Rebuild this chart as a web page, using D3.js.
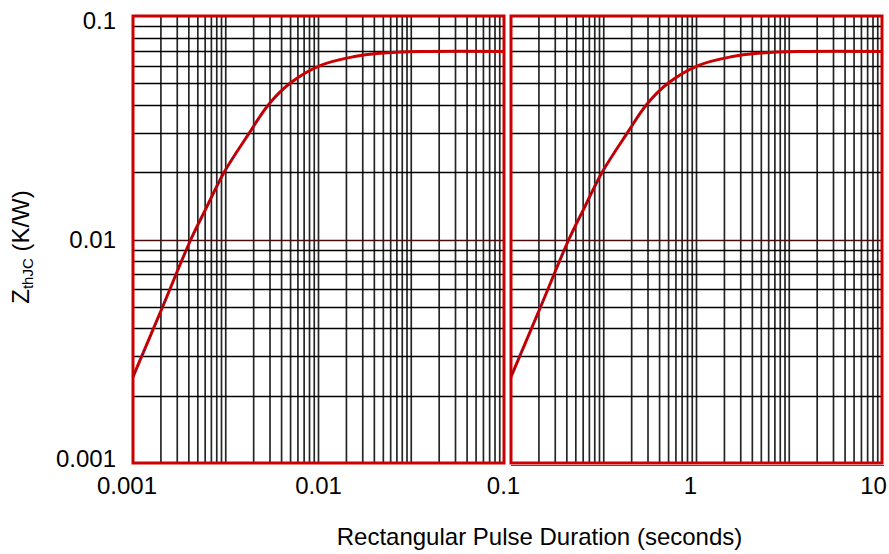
<!DOCTYPE html>
<html>
<head>
<meta charset="utf-8">
<script src="https://cdn.jsdelivr.net/npm/d3@7"></script>
<style>
  html, body { margin: 0; padding: 0; background: #fff; }
  svg { display: block; font-family: "Liberation Sans", Arial, sans-serif; }
</style>
</head>
<body>
<svg id="chart" width="889" height="554"></svg>
<script>
// ---- data ----
const pulseLeft  = [0.001, 0.00143, 0.00205, 0.0025, 0.0031, 0.00424, 0.00536, 0.00702, 0.0102, 0.0154, 0.0215, 0.0352, 0.1];
const zthLeft    = [0.00243, 0.0049, 0.01, 0.014, 0.02, 0.03, 0.04, 0.05, 0.06, 0.0657, 0.0681, 0.0693, 0.0694];
const pulseRight = [0.1, 0.143, 0.205, 0.25, 0.31, 0.424, 0.536, 0.702, 1.02, 1.54, 2.15, 3.52, 10];
const zthRight   = [0.00243, 0.0049, 0.01, 0.014, 0.02, 0.03, 0.04, 0.05, 0.06, 0.0657, 0.0681, 0.0693, 0.0694];
const xTickLabels = ["0.001", "0.01", "0.1", "1", "10"];
const yTickValues = [0.1, 0.01, 0.001];
const yTickLabels = ["0.1", "0.01", "0.001"];
const xTitle = "Rectangular Pulse Duration (seconds)";

// ---- layout ----
const svg = d3.select("#chart");
const plotTop = 16, plotBottom = 463;
const panels = [
  { x0: 133, x1: 504, domain: [0.001, 0.1], t: pulseLeft, z: zthLeft },
  { x0: 511, x1: 882, domain: [0.1, 10], t: pulseRight, z: zthRight }
];
const y = d3.scaleLog().domain([0.001, 0.1]).range([plotBottom, plotTop]);
const red = "#cc0000";
const fs = 24;

// horizontal grid values (1..9 per decade)
const yGrid = [];
for (let e = -3; e < -1; e++) for (let k = 1; k <= 9; k++) yGrid.push(k * Math.pow(10, e));

panels.forEach(p => {
  const x = d3.scaleLog().domain(p.domain).range([p.x0, p.x1]);
  p.x = x;
  // vertical grid: 4 log decades across each panel
  const gx = d3.scaleLog().domain([1, 1e4]).range([p.x0, p.x1]);
  const xGrid = [];
  for (let e = 0; e < 4; e++) for (let k = 1; k <= 9; k++) xGrid.push(k * Math.pow(10, e));
  const g = svg.append("g");
  g.selectAll("line.v").data(xGrid.slice(1)).enter().append("line")
    .attr("x1", d => gx(d)).attr("x2", d => gx(d))
    .attr("y1", plotTop).attr("y2", plotBottom)
    .attr("stroke", "#000").attr("stroke-width", 1.7).attr("stroke-opacity", 0.85);
  g.selectAll("line.h").data(yGrid.slice(1)).enter().append("line")
    .attr("x1", p.x0).attr("x2", p.x1)
    .attr("y1", d => Math.round(y(d)) + 0.5).attr("y2", d => Math.round(y(d)) + 0.5)
    .attr("stroke", d => Math.abs(d - 0.01) < 1e-9 ? "#4a0c0c" : "#000")
    .attr("stroke-width", 1.6);

  const pts = p.t.map((t, i) => [t, p.z[i]]);
  const line = d3.line().x(d => x(d[0])).y(d => y(d[1])).curve(d3.curveCatmullRom.alpha(0.5));
  g.append("path").attr("d", line(pts)).attr("fill", "none")
    .attr("stroke", red).attr("stroke-width", 3);
  g.append("path").attr("d", line(pts.slice(0, 8))).attr("fill", "none")
    .attr("stroke", "#101060").attr("stroke-width", 1).attr("stroke-dasharray", "1,3");

  g.append("rect").attr("x", p.x0).attr("y", plotTop)
    .attr("width", p.x1 - p.x0).attr("height", plotBottom - plotTop)
    .attr("fill", "none").attr("stroke", red).attr("stroke-width", 3);
});

// thin blue line under right panel
svg.append("line").attr("x1", 511).attr("x2", 884).attr("y1", 465.5).attr("y2", 465.5)
  .attr("stroke", "#3a3aff").attr("stroke-width", 1);

// y tick labels
const yLabelY = [21, 240, 458.5];
svg.selectAll("text.ytick").data(yTickValues).enter().append("text")
  .attr("x", 116).attr("y", (d, i) => yLabelY[i])
  .attr("dy", "0.35em")
  .attr("text-anchor", "end").attr("font-size", fs).attr("fill", "#000")
  .text((d, i) => yTickLabels[i]);

// x tick labels
const xTickPos = [
  panels[0].x(0.001) - 6, panels[0].x(0.01), panels[0].x(0.1) - 0.5,
  panels[1].x(1) - 6, panels[1].x(10) - 8.5
];
svg.selectAll("text.xtick").data(xTickLabels).enter().append("text")
  .attr("x", (d, i) => xTickPos[i]).attr("y", 494)
  .attr("text-anchor", "middle").attr("font-size", fs).attr("fill", "#000")
  .text(d => d);

// axis titles
svg.append("text").attr("x", 539.5).attr("y", 545)
  .attr("text-anchor", "middle").attr("font-size", fs).text(xTitle);

const yt = svg.append("text").attr("transform", "translate(29,247) rotate(-90)")
  .attr("text-anchor", "middle").attr("font-size", fs);
yt.append("tspan").text("Z");
yt.append("tspan").attr("font-size", 15).attr("dy", 4).text("thJC");
yt.append("tspan").attr("dy", -4).text(" (K/W)");
</script>
</body>
</html>
